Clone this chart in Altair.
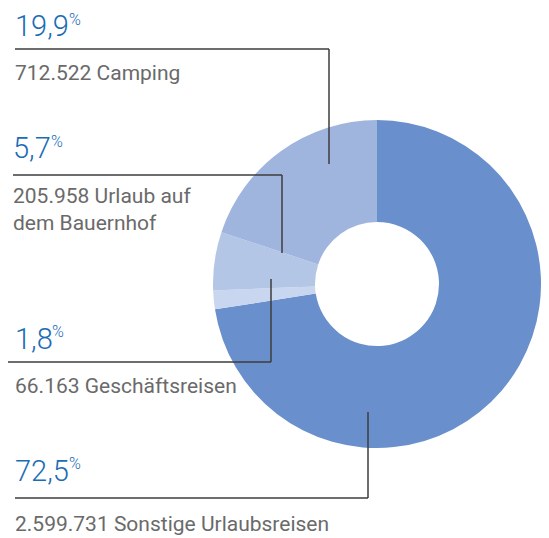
import altair as alt
import pandas as pd

# ---- data ----
categories = ["Sonstige Urlaubsreisen", "Geschäftsreisen", "Urlaub auf dem Bauernhof", "Camping"]
counts = [2599731, 66163, 205958, 712522]
shares = ["72,5", "1,8", "5,7", "19,9"]
count_text = ["2.599.731", "66.163", "205.958", "712.522"]
name_text = ["Sonstige Urlaubsreisen", "Geschäftsreisen", "Urlaub auf\ndem Bauernhof", "Camping"]
slice_colors = ["#6990cc", "#c9d6ef", "#b3c6e6", "#a0b5de"]

# ---- layout (page pixels) ----
W, H, M = 533, 530, 8
CX, CY, R_OUT, R_IN = 377, 284, 164, 62
share_x = [15, 15, 13, 15]
share_y = [481, 349, 158, 36]
pct_x = [69, 52, 51, 69]
pct_y = [469, 337, 147, 25]
name_y = [531, 393, 203, 80]
segs = [
    [(368, 412, 368, 498), (15, 498, 368, 498)],
    [(271, 279, 271, 362), (7, 362, 271, 362)],
    [(282, 175, 282, 253), (13, 175, 282, 175)],
    [(329, 49, 329, 164), (15, 49, 329, 49)],
]

pie = pd.DataFrame({"cat": categories, "n": counts, "o": list(range(len(categories)))})

labels = pd.DataFrame({
    "share": shares,
    "sx": share_x, "sy": share_y,
    "px": pct_x, "py": pct_y,
    "name": [f"{c} {n}" for c, n in zip(count_text, name_text)],
    "ny": name_y,
})

seg_rows = []
for s in segs:
    for (x1, y1, x2, y2) in s:
        seg_rows.append({"x1": x1, "y1": y1, "x2": x2, "y2": y2})
lines = pd.DataFrame(seg_rows)

xs = alt.Scale(domain=[M, M + W], range=[0, W])
ys = alt.Scale(domain=[M, M + H], range=[0, H])

arc = alt.Chart(pie).mark_arc(radius=R_OUT, radius2=R_IN).encode(
    theta=alt.Theta("n:Q", stack=True),
    order=alt.Order("o:Q"),
    color=alt.Color("cat:N", scale=alt.Scale(domain=categories, range=slice_colors), legend=None),
    x=alt.value(CX - M),
    y=alt.value(CY - M),
)

rules = alt.Chart(lines).mark_rule(color="#3c3c3c", strokeWidth=1.5).encode(
    x=alt.X("x1:Q", scale=xs, axis=None),
    y=alt.Y("y1:Q", scale=ys, axis=None),
    x2="x2:Q",
    y2="y2:Q",
)

share_txt = alt.Chart(labels).mark_text(
    align="left", baseline="alphabetic", font="Roboto", fontSize=29, fontWeight=300, color="#1a6cb6"
).encode(
    x=alt.X("sx:Q", scale=xs, axis=None),
    y=alt.Y("sy:Q", scale=ys, axis=None),
    text="share:N",
)

pct_txt = alt.Chart(labels).mark_text(
    align="left", baseline="alphabetic", font="Roboto", fontSize=16, fontWeight=300, color="#1a6cb6"
).encode(
    x=alt.X("px:Q", scale=xs, axis=None),
    y=alt.Y("py:Q", scale=ys, axis=None),
    text=alt.value("%"),
)

name_txt = alt.Chart(labels).mark_text(
    align="left", baseline="alphabetic", font="Roboto", fontSize=21, color="#6a6a6a",
    lineBreak="\n", lineHeight=27,
).encode(
    x=alt.X("sx:Q", scale=xs, axis=None),
    y=alt.Y("ny:Q", scale=ys, axis=None),
    text="name:N",
)

chart = alt.layer(arc, rules, share_txt, pct_txt, name_txt).properties(
    width=W, height=H, padding=0, autosize="none"
).configure_view(stroke=None)

chart.save("out.html", embed_options={"renderer": "svg", "actions": False})
